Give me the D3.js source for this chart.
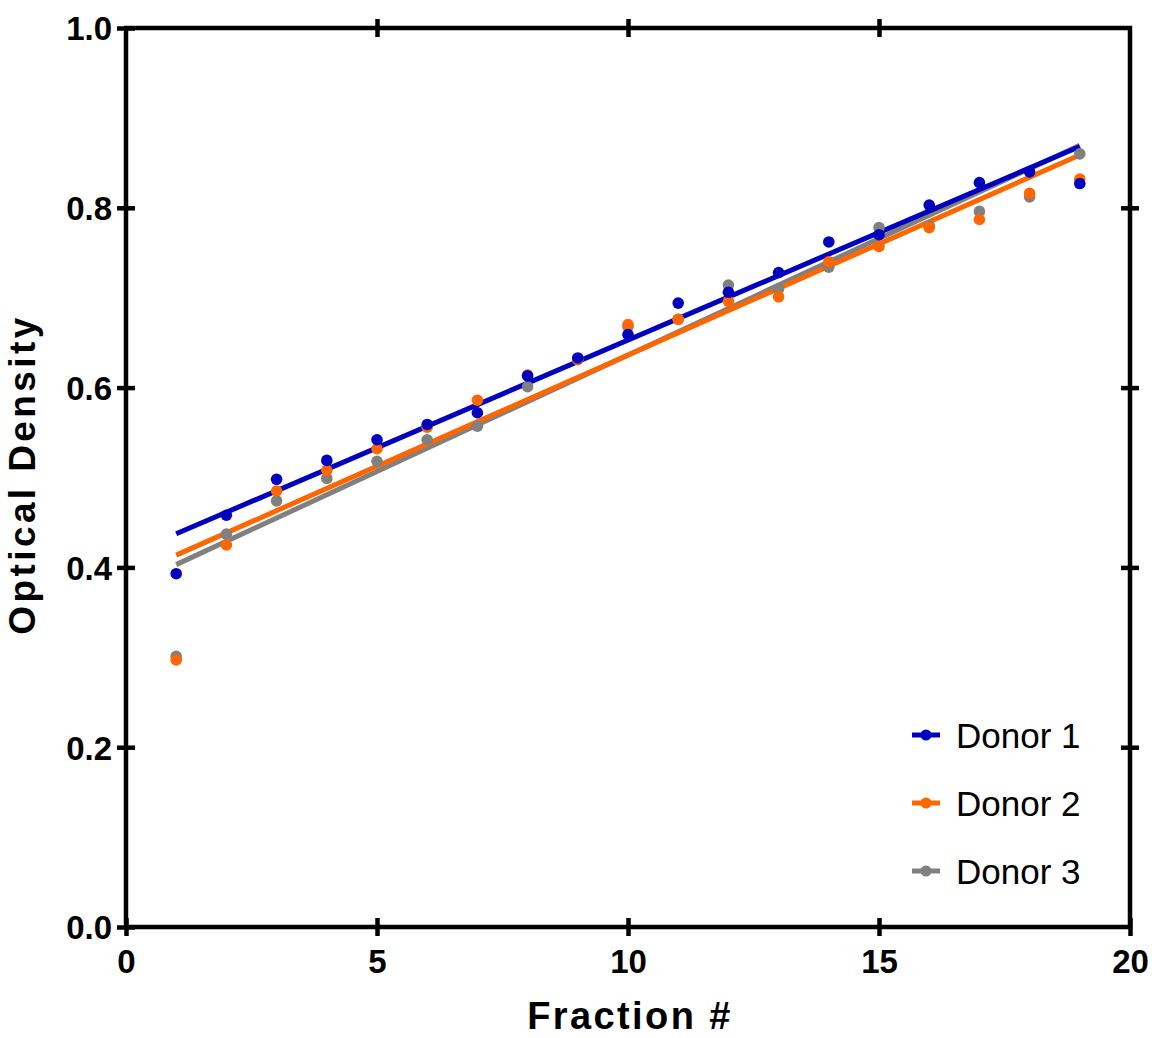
<!DOCTYPE html>
<html><head><meta charset="utf-8">
<script src="https://cdn.jsdelivr.net/npm/d3@7"></script>
<style>
html,body{margin:0;padding:0;background:#fff;}
text{font-family:"Liberation Sans",Arial,sans-serif;}
</style></head>
<body>
<svg id="chart" width="1155" height="1038"></svg>
<script>
const fractions = [1,2,3,4,5,6,7,8,9,10,11,12,13,14,15,16,17,18,19];
const donor1 = [0.393,0.458,0.498,0.519,0.542,0.559,0.572,0.613,0.633,0.659,0.694,0.706,0.728,0.762,0.770,0.803,0.828,0.840,0.827];
const donor2 = [0.297,0.425,0.485,0.508,0.532,0.556,0.586,0.614,0.631,0.670,0.676,0.696,0.701,0.740,0.757,0.778,0.787,0.816,0.832];
const donor3 = [0.301,0.437,0.474,0.499,0.518,0.542,0.557,0.601,0.632,0.668,0.676,0.714,0.710,0.734,0.778,0.780,0.796,0.812,0.860];
const seriesNames = ["Donor 1","Donor 2","Donor 3"];
const seriesColors = ["#0000C0","#FF6600","#808080"];
const xTicks = [0,5,10,15,20];
const yTicks = [0,0.2,0.4,0.6,0.8,1.0];

const series = [donor1, donor2, donor3].map((vals,i)=>({name:seriesNames[i], color:seriesColors[i], vals}));

const svg = d3.select("#chart");
const L=126, R=1130, T=28, B=927;
const x = d3.scaleLinear().domain([0,20]).range([L,R]);
const y = d3.scaleLinear().domain([0,1]).range([B,T]);

function fit(vals){
  const mx = d3.mean(fractions), my = d3.mean(vals);
  let sxy=0,sxx=0;
  fractions.forEach((f,i)=>{sxy+=(f-mx)*(vals[i]-my); sxx+=(f-mx)*(f-mx);});
  const b = sxy/sxx, a = my-b*mx;
  const x0=d3.min(fractions), x1=d3.max(fractions);
  return [[x0,a+b*x0],[x1,a+b*x1]];
}

const order=[2,1,0];
const lineGen = d3.line().x(d=>x(d[0])).y(d=>y(d[1]));
order.forEach(i=>{
  svg.append("path").attr("d",lineGen(fit(series[i].vals)))
    .attr("fill","none").attr("stroke",series[i].color).attr("stroke-width",5);
});
order.forEach(i=>{
  svg.append("g").selectAll("circle").data(series[i].vals).join("circle")
    .attr("cx",(d,j)=>x(fractions[j])).attr("cy",d=>y(d)).attr("r",5.8)
    .attr("fill",series[i].color);
});

const tickLen = 9;
const axStyle = g=>{
  g.select(".domain").remove();
  g.selectAll(".tick line").attr("stroke","#000").attr("stroke-width",4.5);
  g.selectAll(".tick text").attr("font-size",33).attr("font-weight","bold").attr("fill","#000");
};
svg.append("g").attr("transform",`translate(0,${B})`)
  .call(d3.axisBottom(x).tickValues(xTicks).tickSize(tickLen).tickPadding(14).tickFormat(d3.format("d")))
  .call(axStyle)
  .call(g=>g.selectAll(".tick line").attr("y1",-tickLen));
svg.append("g").attr("transform",`translate(${L},0)`)
  .call(d3.axisLeft(y).tickValues(yTicks).tickSize(tickLen).tickPadding(5).tickFormat(d3.format(".1f")))
  .call(axStyle)
  .call(g=>g.selectAll(".tick line").attr("x1",tickLen))
  .call(g=>g.selectAll(".tick text").attr("dy","0.36em"));
svg.append("g").attr("transform",`translate(0,${T})`)
  .call(d3.axisTop(x).tickValues(xTicks.slice(1,-1)).tickSize(tickLen).tickFormat(""))
  .call(axStyle)
  .call(g=>g.selectAll(".tick line").attr("y1",tickLen));
svg.append("g").attr("transform",`translate(${R},0)`)
  .call(d3.axisRight(y).tickValues(yTicks.slice(1,-1)).tickSize(tickLen).tickFormat(""))
  .call(axStyle)
  .call(g=>g.selectAll(".tick line").attr("x1",-tickLen));

svg.append("rect").attr("x",L).attr("y",T).attr("width",R-L).attr("height",B-T)
  .attr("fill","none").attr("stroke","#000").attr("stroke-width",4.5);

svg.append("text").attr("x",(L+R)/2+2).attr("y",1029).attr("text-anchor","middle")
  .attr("font-size",38).attr("font-weight","bold").attr("letter-spacing","2.4px").text("Fraction #");
svg.append("text").attr("transform",`translate(35,${(T+B)/2-3}) rotate(-90)`).attr("text-anchor","middle")
  .attr("font-size",37).attr("font-weight","bold").attr("letter-spacing","3.4px").text("Optical Density");

const legY=[735,803,871];
series.forEach((s,i)=>{
  const g=svg.append("g").attr("transform",`translate(0,${legY[i]})`);
  g.append("line").attr("x1",912).attr("x2",940).attr("y1",0).attr("y2",0).attr("stroke",s.color).attr("stroke-width",5);
  g.append("circle").attr("cx",926).attr("cy",0).attr("r",5.5).attr("fill",s.color);
  g.append("text").attr("x",956).attr("y",0).attr("dy","0.36em").attr("font-size",35).attr("fill","#000").text(s.name);
});
</script>
</body></html>
